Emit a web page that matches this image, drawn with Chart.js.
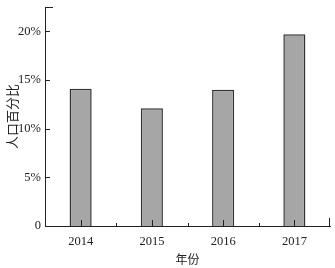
<!DOCTYPE html>
<html>
<head>
<meta charset="utf-8">
<script src="https://cdn.jsdelivr.net/npm/chart.js@4"></script>
<style>
  html, body { margin: 0; padding: 0; background: #fff; }
  #wrap { width: 335px; height: 268px; }
</style>
</head>
<body>
<div id="wrap"><canvas id="myChart"></canvas></div>
<script>
const anos = ['2014', '2015', '2016', '2017'];
const percentual = [14.1, 12.1, 14.0, 19.7];
const marcasY = [0, 5, 10, 15, 20];

const fonte = "'Liberation Serif', 'Noto Sans CJK SC', serif";

// tick marks pointing into the chart, like the original
const marcasInternas = {
  id: 'marcasInternas',
  afterDraw(chart) {
    const c = chart.ctx;
    const x = chart.scales.x;
    const y = chart.scales.y;
    const area = chart.chartArea;
    c.save();
    c.strokeStyle = '#222';
    c.lineWidth = 1;
    c.beginPath();
    anos.forEach(function (a, i) {
      const px = Math.round(x.getPixelForValue(i)) + 0.5;
      c.moveTo(px, area.bottom);
      c.lineTo(px, area.bottom - 6);
      if (i < anos.length - 1) {
        const pb = Math.round(x.getPixelForValue(i + 0.5)) + 0.5;
        c.moveTo(pb, area.bottom);
        c.lineTo(pb, area.bottom - 3);
      }
    });
    const fim = Math.round(area.right) - 0.5;
    c.moveTo(fim, area.bottom);
    c.lineTo(fim, area.bottom - 8);
    marcasY.forEach(function (v) {
      const py = Math.round(y.getPixelForValue(v)) + 0.5;
      c.moveTo(area.left, py);
      c.lineTo(area.left + 5, py);
    });
    const topo = Math.round(area.top) + 0.5;
    c.moveTo(area.left, topo);
    c.lineTo(area.left + 8, topo);
    c.stroke();
    c.restore();
  }
};

const ctx = document.getElementById('myChart');

var grafico = new Chart(ctx, {
  type: 'bar',
  data: {
    labels: anos,
    datasets: [{
      label: '人口百分比',
      data: percentual,
      backgroundColor: '#a6a6a6',
      borderColor: '#333',
      borderWidth: { top: 1.5, left: 1.5, right: 1.5, bottom: 0 },
      borderSkipped: false,
      barPercentage: 0.31,
      categoryPercentage: 1
    }]
  },
  options: {
    responsive: true,
    maintainAspectRatio: false,
    animation: false,
    layout: { padding: { top: 7, right: 5 } },
    plugins: {
      legend: { display: false },
      tooltip: { enabled: false }
    },
    scales: {
      x: {
        grid: { display: false, drawTicks: false },
        border: { color: '#222', width: 1 },
        ticks: { color: '#222', padding: 8, font: { family: fonte, size: 12.5 } },
        title: {
          display: true,
          text: '年份',
          color: '#222',
          padding: { top: 0, bottom: 0 },
          font: { family: fonte, size: 12 }
        },
        afterFit(s) { s.height = 42; }
      },
      y: {
        min: 0,
        max: 22.5,
        grid: { display: false, drawTicks: false },
        border: { color: '#222', width: 1 },
        afterBuildTicks(s) { s.ticks = marcasY.map(v => ({ value: v })); },
        ticks: {
          color: '#222',
          padding: 4,
          font: { family: fonte, size: 12.5 },
          callback: v => v === 0 ? '0' : v + '%'
        },
        title: {
          display: true,
          text: '人口百分比',
          color: '#222',
          padding: { top: 6, bottom: 0 },
          font: { family: fonte, size: 13 }
        },
        afterFit(s) { s.width = 45; s.paddingTop = 0; s.paddingBottom = 0; }
      }
    }
  },
  plugins: [marcasInternas]
});
</script>
</body>
</html>
